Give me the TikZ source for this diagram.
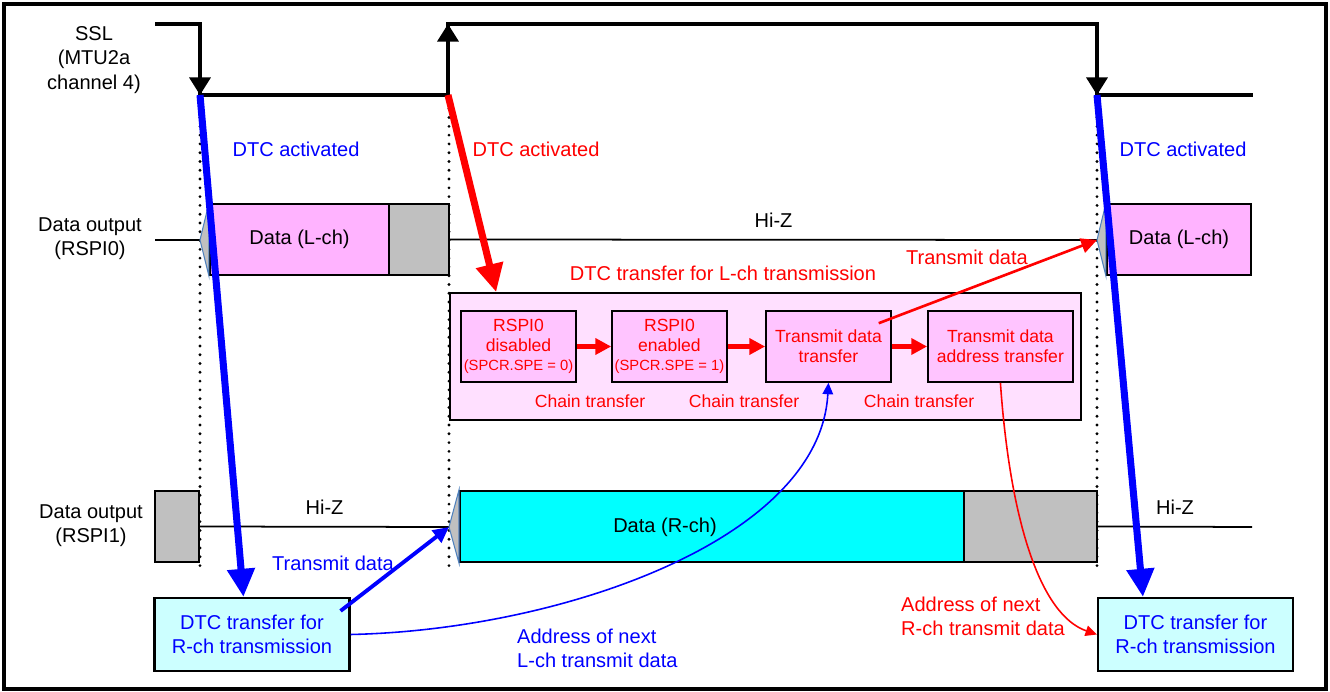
\documentclass[tikz,border=0pt]{standalone}
\usepackage{fontspec}
\setmainfont{Liberation Sans}
\usetikzlibrary{arrows.meta,positioning}

\definecolor{lchpink}{RGB}{255,179,255}
\definecolor{boxpink}{RGB}{255,196,255}
\definecolor{panelpink}{RGB}{255,224,255}
\definecolor{hizgray}{RGB}{192,192,192}
\definecolor{rchcyan}{RGB}{0,255,255}
\definecolor{dtccyan}{RGB}{204,255,255}
\definecolor{edgeblue}{RGB}{79,129,189}

\begin{document}
\begin{tikzpicture}[x=0.02cm, y=-0.02cm, font=\fontsize{11.4}{13.8}\selectfont,
  sig/.style={line width=1.8pt},
  sigarrow/.style={line width=1.8pt, -{Triangle[width=12pt,length=10pt]}},
  guide/.style={line width=1.8pt, dash pattern=on 0pt off 5pt, line cap=round},
  level/.style={line width=1pt},
  edge/.style={fill=hizgray, draw=edgeblue, line width=0.6pt},
  databox/.style={rectangle, draw, line width=1.2pt, minimum height=1.42cm, inner sep=0pt},
  panel/.style={rectangle, draw, line width=1pt, fill=panelpink, minimum width=12.62cm, minimum height=2.54cm},
  chainbox/.style={rectangle, draw, line width=0.9pt, fill=boxpink, minimum height=1.42cm, inner sep=0pt, align=center, text=red, font=\fontsize{10}{11.3}\selectfont},
  chainarrow/.style={red, line width=2.3pt, -{Triangle[width=9pt,length=9pt]}},
  dtcbox/.style={rectangle, draw, line width=1.2pt, fill=dtccyan, minimum width=3.9cm, minimum height=1.46cm, align=center, text=blue},
  dtcarrow/.style={line width=4pt, -{Triangle[width=15pt,length=16pt]}},
  senddata/.style={-{Triangle[width=8.5pt,length=9pt]}},
  addrline/.style={line width=0.9pt, -{Triangle[width=6pt,length=6.5pt]}}]

  \useasboundingbox (0,0) rectangle (1330,692);
  \draw[line width=2.2pt] (4,4) rectangle (1326,689);

  \foreach \gx in {200,449,1097}
    \draw[guide] (\gx,100) -- (\gx,566);

  \node[align=center] (ssl) at (94,60) {SSL\\(MTU2a\\channel 4)};
  \coordinate (s0) at (155,24);
  \coordinate (fall1) at (200,95);
  \coordinate (rise) at (448,95);
  \coordinate (fall2) at (1097,95);
  \coordinate (s1) at (1253,95);
  \draw[sig] (s0) -- (s0 -| fall1) -- (fall1) -- (rise) -- (rise |- s0) -- (fall2 |- s0) -- (fall2) -- (s1);
  \draw[sigarrow] (s0 -| fall1) -- (fall1);
  \draw[sigarrow] (rise) -- (rise |- s0);
  \draw[sigarrow] (fall2 |- s0) -- (fall2);

  \node[align=center] (out0) at (90,239) {Data output\\(RSPI0)};
  \coordinate (h0) at (155,240);
  \coordinate (e0a) at (200,240);
  \coordinate (e0b) at (1097,240);
  \node[databox, fill=lchpink, minimum width=3.58cm] (lch1) at (299.5,239.5) {Data (L-ch)};
  \node[databox, fill=hizgray, minimum width=1.2cm] (gap1) at (419,239.5) {};
  \node[databox, fill=lchpink, minimum width=2.88cm] (lch2) at (1179,239.5) {Data (L-ch)};
  \draw[level] (h0) -- (e0a);
  \draw[level] (gap1.east) -- node[above=3pt] {Hi-Z} (e0b);
  \draw[edge] (e0a) -- (lch1.north west) -- (lch1.south west) -- cycle;
  \draw[edge] (e0b) -- (lch2.north west) -- (lch2.south west) -- cycle;

  \node[align=center] (out1) at (91,526) {Data output\\(RSPI1)};
  \coordinate (e1a) at (449,527);
  \coordinate (h1) at (1252,527);
  \node[databox, fill=hizgray, minimum width=0.88cm] (gap2) at (177,526.5) {};
  \node[databox, fill=rchcyan, minimum width=10.08cm] (rch) at (712,526.5) {};
  \node (rchtext) at (665,527) {Data (R-ch)};
  \node[databox, fill=hizgray, minimum width=2.66cm] (gap3) at (1030.5,526.5) {};
  \draw[level] (gap2.east) -- node[above=3pt] {Hi-Z} (e1a);
  \draw[level] (gap3.east) -- node[above=3pt] {Hi-Z} (h1);
  \draw[edge] (e1a) -- (rch.north west) -- (rch.south west) -- cycle;

  \node[panel] (chain) at (765.5,356.5) {};
  \node[text=red] (title) at (723,273) {DTC transfer for L-ch transmission};
  \node[chainbox, minimum width=2.3cm] (dis) at (518.5,346.5) {RSPI0\\disabled\\{\fontsize{8.4}{11.3}\selectfont (SPCR.SPE = 0)}};
  \node[chainbox, minimum width=2.3cm, right of=dis, node distance=3.02cm] (ena) {RSPI0\\enabled\\{\fontsize{8.4}{11.3}\selectfont (SPCR.SPE = 1)}};
  \node[chainbox, minimum width=2.5cm, right of=ena, node distance=3.18cm] (xfer) {Transmit data\\transfer};
  \node[chainbox, minimum width=2.9cm, right of=xfer, node distance=3.44cm] (addr) {Transmit data\\address transfer};
  \draw[chainarrow] (dis) -- (ena);
  \draw[chainarrow] (ena) -- (xfer);
  \draw[chainarrow] (xfer) -- (addr);
  \node[text=red, font=\fontsize{10}{11.3}\selectfont] (chain1) at (590,401) {Chain transfer};
  \node[text=red, font=\fontsize{10}{11.3}\selectfont] (chain2) at (744,401) {Chain transfer};
  \node[text=red, font=\fontsize{10}{11.3}\selectfont] (chain3) at (919,401) {Chain transfer};

  \node[dtcbox] (dtcL) at (252,634.5) {DTC transfer for\\R-ch transmission};
  \node[dtcbox] (dtcR) at (1195.5,634.5) {DTC transfer for\\R-ch transmission};

  \node[text=blue] (actL) at (296,149) {DTC activated};
  \node[text=red] (actM) at (536,149) {DTC activated};
  \node[text=blue] (actR) at (1183,149) {DTC activated};
  \draw[dtcarrow, blue] (fall1) -- ([xshift=1.8cm]dtcL.north west);
  \draw[dtcarrow, red] (rise) -- ([xshift=0.94cm]chain.north west);
  \draw[dtcarrow, blue] (fall2) -- ([xshift=0.92cm]dtcR.north west);

  \draw[senddata, red, line width=1.5pt] ([xshift=-0.26cm,yshift=-0.26cm]xfer.north east) -- (e0b);
  \node[text=red] (sendL) at (967,257) {Transmit data};
  \draw[senddata, blue, line width=2.2pt] ([xshift=-0.2cm,yshift=-0.28cm]dtcL.north east) -- (e1a);
  \node[text=blue] (sendR) at (333,563) {Transmit data};

  \draw[addrline, blue] (dtcL.east) .. controls (560,630) and (820,540) .. (xfer.south);
  \node[text=blue, align=left, anchor=west] (nextL) at (511,648) {Address of next\\L-ch transmit data};
  \draw[addrline, red] (addr.south) .. controls (1010,520) and (1040,615) .. (dtcR.west);
  \node[text=red, align=left, anchor=west] (nextR) at (895,616) {Address of next\\R-ch transmit data};
\end{tikzpicture}
\end{document}
